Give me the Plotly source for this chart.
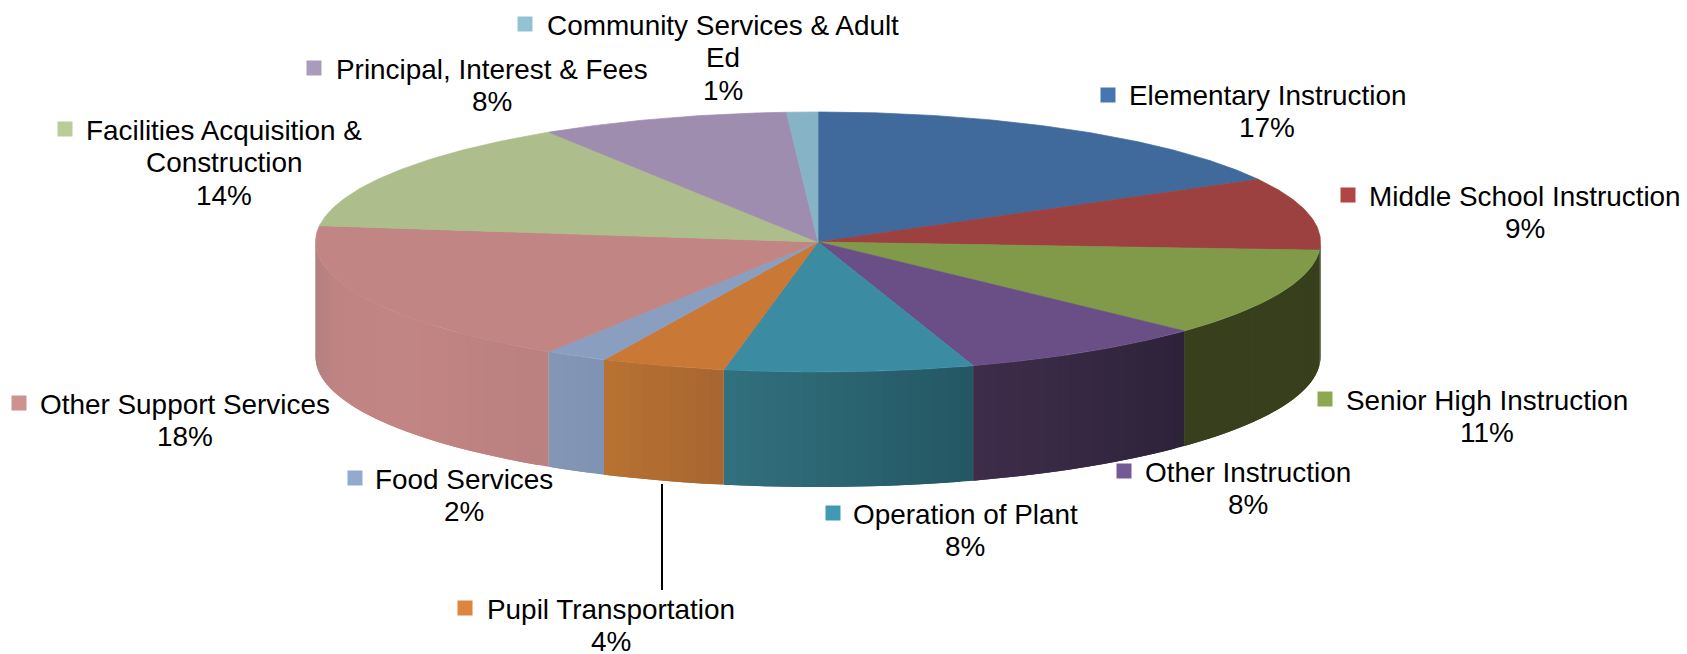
import numpy as np
import plotly.graph_objects as go

# ---- data ----
categories = ["Elementary Instruction", "Middle School Instruction", "Senior High Instruction",
              "Other Instruction", "Operation of Plant", "Pupil Transportation", "Food Services",
              "Other Support Services", "Facilities Acquisition &<br>Construction",
              "Principal, Interest & Fees", "Community Services & Adult<br>Ed"]
values = [17, 9, 11, 8, 8, 4, 2, 18, 14, 8, 1]

# ---- styles ----
top_colors = ["#416a9c", "#9d4040", "#809a49", "#6a4f87", "#3b8ca3", "#c97835", "#8a9fc0",
              "#c18583", "#adbd8b", "#9f8db0", "#86b3c6"]
key_colors = ["#4676ad", "#b04543", "#8ea84e", "#745a95", "#4299b3", "#dd843f", "#94a9d0",
              "#cd918f", "#b9cd96", "#a99bbd", "#91c3d5"]
# wall shading, listed from the left of each slice to its right
wall_stops = [None, ["#373f1c", "#373f1c"], ["#373f1c", "#373f1c"],
              ["#3f2d4b", "#2d2339"], ["#32717f", "#245763"], ["#b87333", "#a86630"],
              ["#8497b5", "#8093b4"], ["#b08080", "#c08583", "#c28583", "#b98180"], None, None, None]

# ---- layout of labels (pixels; y is the centre of the first line) ----
label_x = [1267, 1525, 1487, 1248, 965, 611, 464, 185, 224, 492, 723]
label_y = [95, 196, 400, 472, 514, 609, 479, 404, 130, 69, 25]
key_x = [1108, 1348, 1325, 1124, 833, 465, 355, 19, 65, 314, 525]
key_y = [95, 195, 399, 471, 513, 608, 478, 403, 129, 68, 24]
LINE_STEP = 32.5

CX, CY, RX, RY, DEPTH = 818, 242, 502.5, 130, 115


def project(theta_deg):
    t = np.radians(theta_deg)
    return CX + RX * np.sin(t), CY - RY * np.cos(t)


def mix(stops, s):
    rgb = np.array([[int(c[i:i + 2], 16) for i in (1, 3, 5)] for c in stops], float)
    pos = np.linspace(0, 1, len(stops))
    return "rgb(%d,%d,%d)" % tuple(np.interp(s, pos, rgb[:, j]) for j in range(3))


fig = go.Figure()
shares = np.array(values, float) / sum(values) * 360
edges = np.concatenate([[0], np.cumsum(shares)])


def add_poly(xs, ys, color, width=0):
    fig.add_trace(go.Scatter(x=xs, y=ys, mode="lines", fill="toself", fillcolor=color,
                             line=dict(color=color, width=width), hoverinfo="skip", showlegend=False))


# side walls, as narrow overlapping strips so the shading changes gradually
for i, stops in enumerate(wall_stops):
    if stops is None:
        continue
    a0, a1 = max(edges[i], 90), min(edges[i + 1], 270)
    if a1 <= a0:
        continue
    n = max(4, int((a1 - a0) / 1.5))
    grid = np.linspace(a0, a1, n + 1)
    for j in range(n):
        end = grid[min(j + 2, n)]
        th = np.linspace(grid[j], end, 6)
        x, y = project(th)
        xs = np.concatenate([x, x[::-1]])
        ys = np.concatenate([y, y[::-1] + DEPTH])
        add_poly(xs, ys, mix(stops, 1 - (j + 0.5) / n))

# top faces
for i, c in enumerate(top_colors):
    th = np.linspace(edges[i], edges[i + 1], max(4, int(shares[i] * 2)))
    x, y = project(th)
    add_poly(np.concatenate([[CX], x, [CX]]), np.concatenate([[CY], y, [CY]]), c, width=0.7)

# leader line for Pupil Transportation
fig.add_trace(go.Scatter(x=[662, 662], y=[484, 590], mode="lines", line=dict(color="black", width=2),
                         hoverinfo="skip", showlegend=False))

# legend keys
fig.add_trace(go.Scatter(x=key_x, y=key_y, mode="markers",
                         marker=dict(symbol="square", size=15, color=key_colors, line=dict(width=0)),
                         hoverinfo="skip", showlegend=False))

for name, val, lx, ly in zip(categories, values, label_x, label_y):
    lines = name.split("<br>") + [f"{val}%"]
    for k, line in enumerate(lines):
        fig.add_annotation(x=lx, y=ly + k * LINE_STEP, text=line, showarrow=False, xanchor="center",
                           yanchor="middle", align="center",
                           font=dict(family="Liberation Sans", size=27.9, color="black"), borderpad=0)

fig.update_layout(width=1687, height=654, margin=dict(l=0, r=0, t=0, b=0),
                  paper_bgcolor="white", plot_bgcolor="white", showlegend=False,
                  xaxis=dict(range=[0, 1687], visible=False, fixedrange=True),
                  yaxis=dict(range=[654, 0], visible=False, fixedrange=True))

fig.write_html("out.html", config={"displayModeBar": False},
               post_script="document.body.style.margin='0';")
